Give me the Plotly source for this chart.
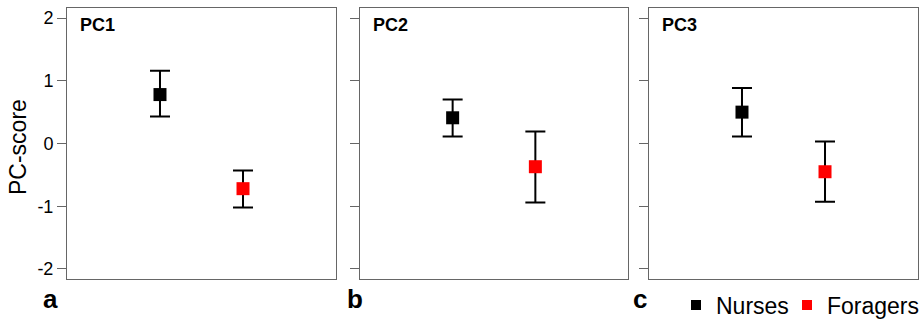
import plotly.graph_objects as go

panels = ["PC1", "PC2", "PC3"]
panel_letters = ["a", "b", "c"]
groups = ["Nurses", "Foragers"]
group_colors = ["#000000", "#ff0000"]
group_x = [1, 2]

# mean, upper, lower per panel, per group [Nurses, Foragers]
means = [[0.78, -0.72], [0.41, -0.37], [0.50, -0.45]]
upper = [[1.16, -0.43], [0.70, 0.19], [0.885, 0.03]]
lower = [[0.43, -1.02], [0.11, -0.94], [0.11, -0.93]]

yticks = [-2, -1, 0, 1, 2]

W, H = 921, 326
xdomains = [(67 / W, 336 / W), (360 / W, 628 / W), (649 / W, 918 / W)]
ydomain = ((H - 279) / H, (H - 8) / H)
FONT = "Liberation Sans, Arial, Helvetica, sans-serif"
legend_x = [676, 787]

fig = go.Figure()
layout = dict(
    width=W, height=H, margin=dict(l=0, r=0, t=0, b=0, autoexpand=False),
    paper_bgcolor="white", plot_bgcolor="white",
    font=dict(family=FONT, color="black"),
    showlegend=True,
)
for g in range(2):
    key = "legend" if g == 0 else "legend2"
    layout[key] = dict(orientation="h", x=legend_x[g] / W, y=(H - 305) / H, xanchor="left",
                       yanchor="middle", font=dict(size=23, family=FONT), bgcolor="rgba(0,0,0,0)",
                       itemsizing="trace")

annotations = []
for p in range(3):
    ax = "" if p == 0 else str(p + 1)
    for g in range(2):
        m = means[p][g]
        fig.add_trace(go.Scatter(
            x=[group_x[g]], y=[m], mode="markers",
            marker=dict(symbol="square", size=13, color=group_colors[g]),
            error_y=dict(type="data", symmetric=False,
                         array=[upper[p][g] - m], arrayminus=[m - lower[p][g]],
                         color="black", thickness=2, width=10),
            xaxis="x" + ax, yaxis="y" + ax, showlegend=False, name=groups[g],
        ))
    layout["xaxis" + ax] = dict(domain=list(xdomains[p]), range=[-0.12, 3.12], showticklabels=False,
                                ticks="", showgrid=False, zeroline=False, showline=True, mirror=True,
                                linecolor="#666666", linewidth=1, anchor="y" + ax)
    layout["yaxis" + ax] = dict(domain=list(ydomain), range=[-2.16, 2.16], tickvals=yticks,
                                ticktext=[str(v) for v in yticks], showticklabels=(p == 0),
                                ticks="outside", ticklen=9, tickcolor="#666666", tickwidth=1,
                                tickfont=dict(size=18, family=FONT, color="black"),
                                showgrid=False, zeroline=False, showline=True, mirror=True,
                                linecolor="#666666", linewidth=1, anchor="x" + ax)
    annotations.append(dict(text="<b>" + panels[p] + "</b>", xref="paper", yref="paper",
                            x=(xdomains[p][0] * W + 11) / W, y=(H - 25) / H,
                            xanchor="left", yanchor="middle", showarrow=False,
                            font=dict(size=18, family=FONT, color="black")))
    letter_x = [50, 355, 640][p]
    annotations.append(dict(text="<b>" + panel_letters[p] + "</b>", xref="paper", yref="paper",
                            x=letter_x / W, y=(H - 299) / H, xanchor="center", yanchor="middle",
                            showarrow=False, font=dict(size=26, family=FONT, color="black")))

for g in range(2):
    fig.add_trace(go.Scatter(x=[None], y=[None], mode="markers", name=groups[g],
                             marker=dict(symbol="square", size=10, color=group_colors[g]),
                             showlegend=True, legend="legend" if g == 0 else "legend2"))

annotations.append(dict(text="PC-score", xref="paper", yref="paper", x=18 / W, y=(H - 147) / H,
                        xanchor="center", yanchor="middle", textangle=-90, showarrow=False,
                        font=dict(size=23, family=FONT, color="black")))
layout["annotations"] = annotations
fig.update_layout(**layout)
fig.write_html("out.html", config={"displayModeBar": False},
               post_script="document.body.style.margin='0';document.body.style.overflow='hidden';")
